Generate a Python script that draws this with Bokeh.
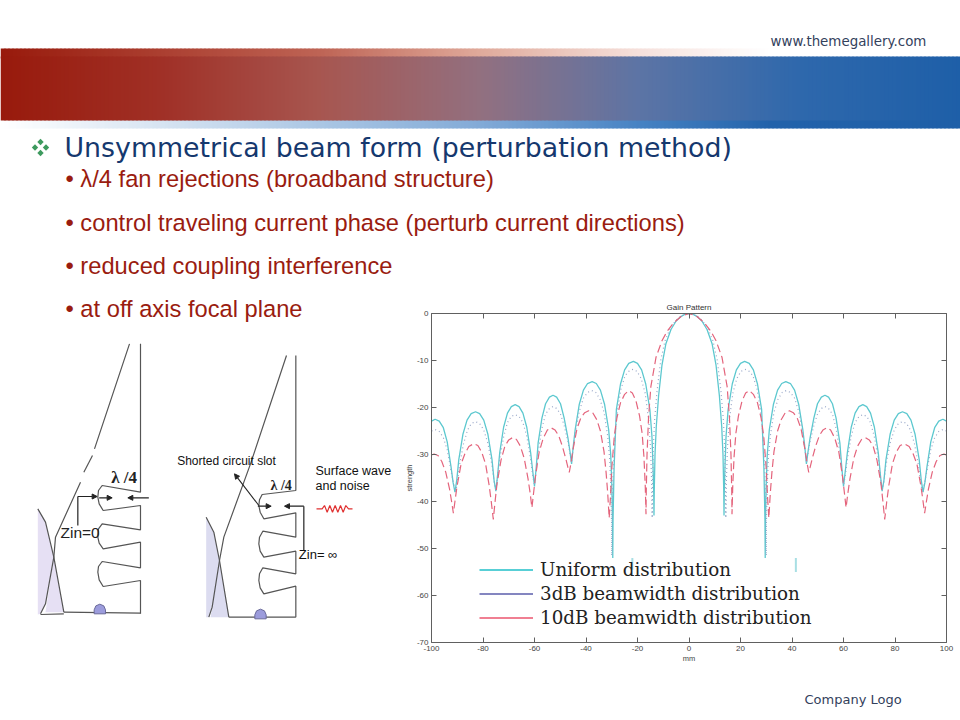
from bokeh.plotting import figure
from bokeh.models import Arrow, NormalHead, LinearAxis, FixedTicker, Legend, LegendItem
from bokeh.core.properties import value
from bokeh.embed import file_html
from bokeh.resources import INLINE

# ---- chart data (left half, the pattern is symmetric about 0 mm)
uniform_x = [-100,-98.6,-97,-95.4,-93.9,-92.4,-91.6,-90.9,
 -90.2,-89.4,-87.8,-86.2,-84.6,-82.9,-81.3,-79.7,-78.1,-76.5,-75.7,-75,
 -74.3,-73.5,-72,-70.5,-69,-67.5,-66,-64.5,-63,-61.5,-60.7,-60,
 -59.3,-58.6,-57.1,-55.7,-54.2,-52.8,-51.4,-49.9,-48.5,-47,-46.2,-45.6,
 -45,-44.2,-42.6,-41,-39.4,-37.6,-36,-34.4,-32.8,-31.2,-30.4,-30,-29.7,-29.6,
 -29.5,-29.1,-28.2,-26.6,-25,-23.4,-21.6,-20,-18.4,-16.8,-15.2,-14.4,-14,-13.7,-13.6,
 -13.5,-13.2,-12.7,-11.8,-10.5,-9,-7,-5,-3,-1.5,0]
uniform_y = [-22.9,-22.5,-22.9,-24.3,-27.3,-32.7,-36,-38,
 -35.5,-31.1,-25.7,-22.7,-21.3,-20.9,-21.3,-22.7,-25.7,-31.1,-35.5,-37.8,
 -34.2,-29.6,-24.2,-21.2,-19.8,-19.4,-19.8,-21.2,-24.2,-29.6,-33.5,-36.8,
 -32.5,-27.6,-22.2,-19.2,-17.8,-17.4,-17.8,-19.2,-22.2,-26.5,-29.5,-32,
 -28.5,-24.7,-19.3,-16.3,-14.9,-14.5,-14.9,-16.3,-19.3,-24.7,-30,-36,-44,-52,
 -44,-33,-20.4,-15,-12,-10.6,-10.2,-10.6,-12,-15,-20.4,-26,-32,-38,-43,
 -38,-30,-24,-17.5,-11,-6.5,-3.4,-1.6,-0.6,-0.15,0]
db3_x = [-100,-98.6,-97,-95.4,-93.9,-92.4,-91.5,-90.6,
 -90,-89.2,-87.6,-86,-84.5,-82.9,-81.3,-79.7,-78.1,-76.5,-75.7,-75,
 -74.4,-73.6,-72,-70.5,-69,-67.6,-66,-64.5,-63,-61.5,-60.7,-60,
 -59.4,-58.6,-57.1,-55.7,-54.2,-52.8,-51.4,-49.9,-48.5,-47,-46.2,-45.6,
 -45,-44.2,-42.6,-41,-39.4,-37.8,-36.2,-34.6,-33,-31.6,-30.8,-30.3,-30.05,-30,
 -29.9,-29.5,-28.7,-27.8,-26.4,-24.8,-23.2,-21.8,-20.2,-18.6,-17,-15.6,-14.9,-14.5,-14.3,
 -14.2,-13.9,-13.4,-12.4,-11,-9.3,-7.2,-5,-3,-1.5,0]
db3_y = [-25,-24.7,-25.1,-26.4,-29,-33.5,-36,-38,
 -36,-32.6,-27.8,-24.8,-23.4,-23,-23.4,-24.8,-27.6,-32.3,-35.8,-37.8,
 -35,-31.2,-26.3,-23.2,-21.9,-21.5,-21.9,-23.2,-26.1,-31,-34.5,-36.5,
 -33.8,-29.6,-24.4,-21.4,-20.2,-19.8,-20.2,-21.4,-23.8,-27.3,-29.8,-31.8,
 -28.8,-25.6,-20.8,-18,-16.8,-16.4,-16.8,-18.2,-21,-26,-31,-38,-45,-51.5,
 -45,-34,-26,-20.6,-16,-13.2,-12.2,-11.9,-12.3,-13.8,-17,-23,-29,-36,-43.5,
 -37,-29.5,-23,-16.5,-10,-5.8,-3,-1.4,-0.5,-0.12,0]
db10_x = [-100,-99,-97.5,-96,-94.5,-93,-92.2,-91.5,
 -90.9,-90.1,-88.5,-87,-85.5,-83.6,-82,-80.5,-79,-77.6,-76.8,-76,
 -75.4,-74.6,-73,-71.5,-70,-68.5,-67,-65.5,-64,-62.5,-61.7,-61,
 -60.4,-59.6,-58.2,-56.6,-55,-53.6,-52,-50.6,-49.2,-47.8,-47,-46.5,
 -45.9,-45,-43.5,-42,-40.5,-39,-37.4,-35.8,-34.4,-33,-32.2,-31.6,-31,
 -30.5,-30,-29,-28,-26.6,-25,-23.4,-22,-20.6,-19.2,-18.2,-17.5,-17,-16.7,
 -16.6,-16.3,-15.7,-14.8,-12.8,-10.5,-8.5,-6,-3,0]
db10_y = [-30.1,-29.9,-30.2,-31.5,-33.7,-37.3,-40,-42.5,
 -40,-36.8,-32,-29.8,-28.3,-27.7,-28.1,-29.5,-32,-36.6,-40,-43.8,
 -40.5,-36.4,-31.2,-28.2,-26.9,-26.4,-26.8,-28.2,-30.8,-35.2,-38.2,-41.3,
 -38.4,-34.6,-29.5,-26.5,-24.8,-24.3,-24.8,-26,-28.2,-31,-32.8,-33.8,
 -32,-28.8,-24.5,-22.2,-21.1,-20.7,-21.1,-22.6,-25,-29.4,-33.8,-38,-43.5,
 -39,-33,-26,-22.2,-19,-17.2,-16.4,-16.9,-18.6,-21.8,-25.5,-30.5,-36.5,-42.7,
 -38,-30,-22,-15.5,-9.3,-5.8,-3.8,-2,-0.6,0]
# short stubs left over under the legend
stub_x = [-22, 41.5]
stub_top = [-52, -52]
stub_bottom = [-54.5, -55]

x_ticks = [-100,-80,-60,-40,-20,0,20,40,60,80,100]
y_ticks = [0,-10,-20,-30,-40,-50,-60,-70]
series_names = ["Uniform distribution", "3dB beamwidth distribution", "10dB beamwidth distribution"]

title_text = "Unsymmetrical beam form (perturbation method)"
bullets = ["\u2022 \u03bb/4 fan rejections (broadband structure)",
           "\u2022 control traveling current phase (perturb current directions)",
           "\u2022 reduced coupling interference",
           "\u2022 at off axis focal plane"]

def mirror(x, y):
    return x + [-v for v in reversed(x[:-1])], y + list(reversed(y[:-1]))

W, H = 960, 720
L, R, T, B = 431, 946, 313, 642
pinned = {"position": "absolute", "left": "0px", "top": "0px"}

# ---- the chart, a transparent page-sized figure whose frame is the axes box
p = figure(width=W, height=H, output_backend="svg", toolbar_location=None,
           x_range=(-100, 100), y_range=(-70, 0),
           min_border_left=L, min_border_right=W-R, min_border_top=T, min_border_bottom=H-B,
           title="Gain Pattern", x_axis_label="mm", y_axis_label="strength",
           background_fill_alpha=0, border_fill_alpha=0, styles=pinned)
p.grid.visible = False
p.outline_line_color = None
p.title.align = "center"
p.title.text_font = "Liberation Sans"
p.title.text_font_style = "normal"
p.title.text_font_size = "8px"
p.title.text_color = "#333333"
p.title.standoff = 3

AX = "#606060"
def style_axis(a, ticks, labels=True):
    a.ticker = FixedTicker(ticks=ticks)
    a.major_label_overrides = {t: str(t) for t in ticks}
    a.axis_line_color = AX
    a.major_tick_line_color = AX
    a.major_tick_in = 5
    a.major_tick_out = 0
    a.minor_tick_line_color = None
    a.major_label_text_font = "Liberation Sans"
    a.major_label_text_font_size = "8px"
    a.major_label_text_color = "#444444"
    a.major_label_standoff = 3
    a.axis_label_text_font = "Liberation Sans"
    a.axis_label_text_font_style = "normal"
    a.axis_label_text_font_size = "7.5px"
    a.axis_label_text_color = "#444444"
    a.axis_label_standoff = 0
    if not labels:
        a.major_label_text_color = None
style_axis(p.xaxis[0], x_ticks)
style_axis(p.yaxis[0], y_ticks)
top_axis = LinearAxis(); style_axis(top_axis, x_ticks, False)
right_axis = LinearAxis(); style_axis(right_axis, y_ticks, False)
p.add_layout(top_axis, "above")
p.add_layout(right_axis, "right")

ux, uy = mirror(uniform_x, uniform_y)
tx, ty = mirror(db3_x, db3_y)
dx, dy = mirror(db10_x, db10_y)
p.line(ux, uy, line_color="#5cc8cf", line_width=1.3)
p.line(tx, ty, line_color="#97a6c8", line_width=1.2, line_dash="1 3")
p.line(dx, dy, line_color="#e4647c", line_width=1.2, line_dash="8 4")
p.segment(stub_x, stub_top, stub_x, stub_bottom, line_color="#a8dfe4", line_width=2)

# legend keys: stand-ins outside the visible range, drawn in the legend's own colours
r1 = p.line([-300, -299], [0, 0], line_color="#58cfd6", line_width=2.2)
r2 = p.line([-300, -299], [0, 0], line_color="#8486c0", line_width=2.2)
r3 = p.line([-300, -299], [0, 0], line_color="#f07f92", line_width=2.2)
legend = Legend(items=[LegendItem(label=n, renderers=[r]) for n, r in zip(series_names, [r1, r2, r3])],
                location=(48, 14), orientation="vertical",
                background_fill_alpha=0, border_line_color=None,
                padding=0, margin=0, spacing=3, glyph_width=54, glyph_height=21,
                label_standoff=7, label_height=21,
                label_text_font="DejaVu Serif", label_text_font_size="18.3px", label_text_color="#222222")
p.add_layout(legend, "center")

# ---- the slide behind it, in page pixels
bg = figure(width=W, height=H, output_backend="svg", toolbar_location=None,
            x_range=(0, W), y_range=(H, 0), min_border=0, styles=pinned)
bg.axis.visible = False
bg.grid.visible = False
bg.outline_line_color = None

def txt(x, y, s, size, color="#222222", font="Liberation Sans", style="normal"):
    bg.text([x], [y], text=[s], text_font=value(font), text_font_size=f"{size}px", text_color=color,
            text_font_style=style, text_baseline="middle", text_align="left")

def lerp(stops, x):
    for (x0, c0), (x1, c1) in zip(stops, stops[1:]):
        if x0 <= x <= x1:
            f = (x - x0) / (x1 - x0)
            return "#%02x%02x%02x" % tuple(round(a + (b - a) * f) for a, b in zip(c0, c1))
    return "#%02x%02x%02x" % stops[-1][1]

main_stops = [(0,(152,26,12)),(160,(160,48,38)),(320,(167,86,80)),(480,(146,112,128)),
              (640,(92,116,165)),(800,(46,104,172)),(960,(30,95,168))]
top_stops = [(0,(152,26,12)),(320,(190,100,85)),(480,(224,170,155)),(640,(246,225,220)),(770,(255,255,255)),(960,(255,255,255))]
low_stops = [(0,(255,255,255)),(160,(215,228,242)),(320,(170,198,228)),(480,(130,170,215)),(640,(70,130,195)),(770,(34,98,170)),(960,(30,95,168))]
STEP = 4
lefts = list(range(0, W, STEP))
rights = [v + STEP + 1 for v in lefts]
# the thin strips run under the main band so that no seam shows
for stops, t, b in [(top_stops, 48, 58), (low_stops, 118, 128), (main_stops, 56, 120)]:
    bg.quad(left=lefts, right=rights, top=[t] * len(lefts), bottom=[b] * len(lefts),
            fill_color=[lerp(stops, v + STEP / 2) for v in lefts], line_color=None)

txt(770, 41, "www.themegallery.com", 13.4, "#33415c", "DejaVu Sans")
txt(804, 699, "Company Logo", 13, "#33415c", "DejaVu Sans")
txt(64, 147, title_text, 26.8, "#15386e", "DejaVu Sans")
for y, s in zip([178, 222, 265, 308], bullets):
    txt(65, y, s, 23.7, "#9a1c10")

# green diamond bullet
for cx, cy in [(40, 141.5), (34.5, 147), (45.5, 147), (40, 152.5)]:
    bg.patch([cx, cx + 3.2, cx, cx - 3.2], [cy - 3.2, cy, cy + 3.2, cy], fill_color="#3d9a5e", line_color=None)

# antenna sketches: points as (x, y) on a 3x grid offset from (20, 340)
def zx(v): return 20 + v / 3
def zy(v): return 340 + v / 3
def path(pts, color="#555555", width=1.2):
    bg.line([zx(a) for a, _ in pts], [zy(b) for _, b in pts], line_color=color, line_width=width)
def fill(pts, color):
    bg.patch([zx(a) for a, _ in pts], [zy(b) for _, b in pts], fill_color=color, line_color=None)
def arrow(a, b, c, d):
    bg.add_layout(Arrow(x_start=zx(a), y_start=zy(b), x_end=zx(c), y_end=zy(d),
                        line_color="#222222", line_width=1.1,
                        end=NormalHead(size=5, fill_color="#222222", line_color="#222222")))
def ball(cx, cy, r, color):
    pts = [(cx - r, cy + 12), (cx - r, cy), (cx - 0.7 * r, cy - 0.7 * r), (cx, cy - r),
           (cx + 0.7 * r, cy - 0.7 * r), (cx + r, cy), (cx + r, cy + 12)]
    bg.patch([zx(a) for a, _ in pts], [zy(b) for _, b in pts], fill_color=color, line_color="#6a6a9a", line_width=1)

# left sketch
fill([(52,505),(75,545),(100,650),(75,790),(60,820),(52,822)], "#e6e0f4")
fill([(100,650),(130,815),(75,815)], "#e6e0f4")
path([(52,505),(75,545),(100,650),(130,815)])
path([(327,10),(222,325)]); path([(216,345),(190,395)]); path([(180,425),(105,590),(100,650),(75,790),(60,820)])
path([(360,10),(360,455),(245,435),(234,450),(232,470),(236,490),(248,510),(360,495),(360,568),(245,550),
      (234,565),(232,590),(236,608),(248,625),(360,605),(360,682),(245,663),(234,678),(232,695),(236,718),(248,738),(360,720),(360,820)])
path([(130,815),(360,818)])
path([(60,822),(130,820)])
ball(238, 808, 17, "#9c9cdc")
path([(172,468),(172,555)], "#222222")
arrow(172,468,230,468); arrow(236,472,275,472); arrow(385,472,322,472)
txt(zx(272), zy(410), "\u03bb /4", 17, "#222222", "Liberation Serif", "bold")
txt(zx(120), zy(577), "Zin=0", 15.5)

# right sketch
fill([(557,530),(580,575),(597,660),(575,800),(565,830),(557,830)], "#dcdcf0")
fill([(597,660),(625,830),(570,830)], "#dcdcf0")
path([(557,530),(580,575),(597,660),(625,830)])
path([(798,45),(690,370),(610,590),(597,660),(575,800),(565,830)])
path([(826,45),(826,450),(725,462),(717,478),(715,495),(719,515),(730,535),(826,517),(826,590),(727,572),
      (717,590),(715,610),(719,632),(730,650),(826,632),(826,700),(727,682),(717,700),(715,720),(719,742),(730,760),(826,737),(826,830)])
path([(625,830),(826,830)])
ball(720, 823, 17, "#9c9cdc")
path([(850,497),(850,630)], "#222222")
arrow(712,497,752,497); arrow(850,497,792,497); arrow(715,495,642,400)
txt(zx(470), zy(360), "Shorted circuit slot", 12, "#111111")
txt(zx(885), zy(392), "Surface wave", 12.5, "#111111")
txt(zx(885), zy(437), "and noise", 12.5, "#111111")
txt(zx(750), zy(435), "\u03bb /4", 14, "#222222", "Liberation Serif", "bold")
txt(zx(835), zy(642), "Zin= \u221e", 13, "#111111")
path([(888,505),(905,505),(912,495),(920,515),(928,495),(936,515),(944,495),(952,515),(960,495),(968,515),(976,495),(984,505),(996,505)],
     "#e03030", 1.2)

open("out.html", "w").write(file_html([bg, p], INLINE))
